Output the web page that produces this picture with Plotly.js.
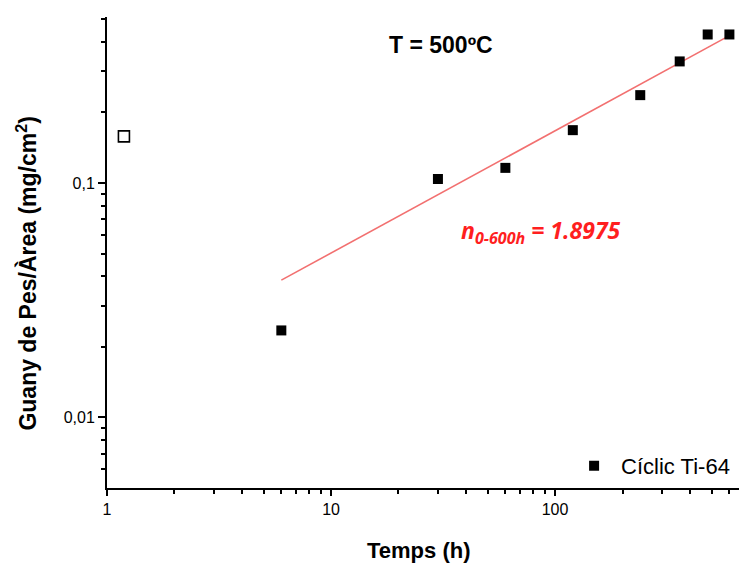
<!DOCTYPE html>
<html>
<head>
<meta charset="utf-8">
<script src="https://cdn.plot.ly/plotly-3.0.1.min.js"></script>
<style>html,body{margin:0;padding:0;background:#fff;}#chart{width:739px;height:563px;}</style>
</head>
<body>
<div id="chart"></div>
<script>
// Data
var timeH = [6, 30, 60, 120, 240, 360, 480, 600];
var massGain = [0.0235, 0.104, 0.116, 0.168, 0.237, 0.330, 0.430, 0.430];
var strayX = [1.19];
var strayY = [0.158];
var fitX = [6, 600];
var fitY = [0.0385, 0.425];
var xTickVals = [1, 10, 100];
var xTickText = ['1', '10', '100'];
var yTickVals = [0.01, 0.1];
var yTickText = ['0,01', '0,1'];
var xMinor = [2,3,4,5,6,7,8,9,20,30,40,50,60,70,80,90,200,300,400,500,600];
var yMinor = [0.006,0.007,0.008,0.009,0.02,0.03,0.04,0.05,0.06,0.07,0.08,0.09,0.2,0.3,0.4,0.5];

var font = 'Liberation Sans, Arial, sans-serif';

var traces = [
  {x: fitX, y: fitY, mode: 'lines', line: {color: '#f27070', width: 1.6}, showlegend: false, hoverinfo: 'skip'},
  {x: strayX, y: strayY, mode: 'markers', marker: {symbol: 'square-open', size: 11, color: '#000', line: {width: 1.6, color: '#000'}}, showlegend: false},
  {x: timeH, y: massGain, mode: 'markers', name: 'Cíclic Ti-64', marker: {symbol: 'square', size: 10, color: '#000'}}
];

var layout = {
  width: 739, height: 563,
  margin: {l: 107, r: 0, t: 17, b: 75},
  paper_bgcolor: '#fff', plot_bgcolor: '#fff',
  font: {family: font, color: '#000', size: 16},
  xaxis: {
    type: 'log', range: [0, 2.821],
    showgrid: false, zeroline: false,
    showline: true, linecolor: '#000', linewidth: 2,
    ticks: 'outside', ticklen: 6, tickwidth: 2, tickcolor: '#000',
    tickmode: 'array', tickvals: xTickVals, ticktext: xTickText,
    tickfont: {family: font, size: 16, color: '#000'},
    minor: {ticks: 'outside', ticklen: 4, tickwidth: 2, tickcolor: '#000', tickmode: 'array', tickvals: xMinor}
  },
  yaxis: {
    type: 'log', range: [Math.log10(0.005), -0.292],
    showgrid: false, zeroline: false,
    showline: true, linecolor: '#000', linewidth: 2,
    ticks: 'outside', ticklen: 7, tickwidth: 2, tickcolor: '#000',
    tickmode: 'array', tickvals: yTickVals, ticktext: yTickText,
    tickfont: {family: font, size: 16, color: '#000'},
    minor: {ticks: 'outside', ticklen: 4, tickwidth: 2, tickcolor: '#000', tickmode: 'array', tickvals: yMinor}
  },
  showlegend: true,
  legend: {x: 0.728, y: 0.047, xanchor: 'left', yanchor: 'middle', bgcolor: 'rgba(0,0,0,0)', itemwidth: 44,
           font: {family: font, size: 22, color: '#000'}},
  annotations: [
    {xref: 'paper', yref: 'paper', x: -0.128, y: 0.50, text: '<b>Guany de Pes/Àrea (mg/cm<sup>2</sup>)</b>', textangle: -90,
     showarrow: false, font: {family: font, size: 23, color: '#000'}, xanchor: 'center', yanchor: 'middle', yshift: -21, xshift: 0},
    {xref: 'paper', yref: 'paper', x: 0.5, y: 0, yshift: -62, text: '<b>Temps (h)</b>', showarrow: false,
     font: {family: font, size: 22, color: '#000'}, xanchor: 'center', yanchor: 'middle', xshift: -5},
    {xref: 'paper', yref: 'paper', x: 0.528, y: 0.94, text: '<b>T = 500ºC</b>', showarrow: false,
     font: {family: font, size: 23, color: '#000'}, xanchor: 'center', yanchor: 'middle'},
    {xref: 'paper', yref: 'paper', x: 0.687, y: 0.545, text: '<b><i>n<sub>0-600h</sub> = 1.8975</i></b>', showarrow: false,
     font: {family: 'Open Sans, sans-serif', size: 23, color: '#ff1f1f'}, xanchor: 'center', yanchor: 'middle'}
  ]
};

Plotly.newPlot('chart', traces, layout, {displayModeBar: false, staticPlot: true});
</script>
</body>
</html>
